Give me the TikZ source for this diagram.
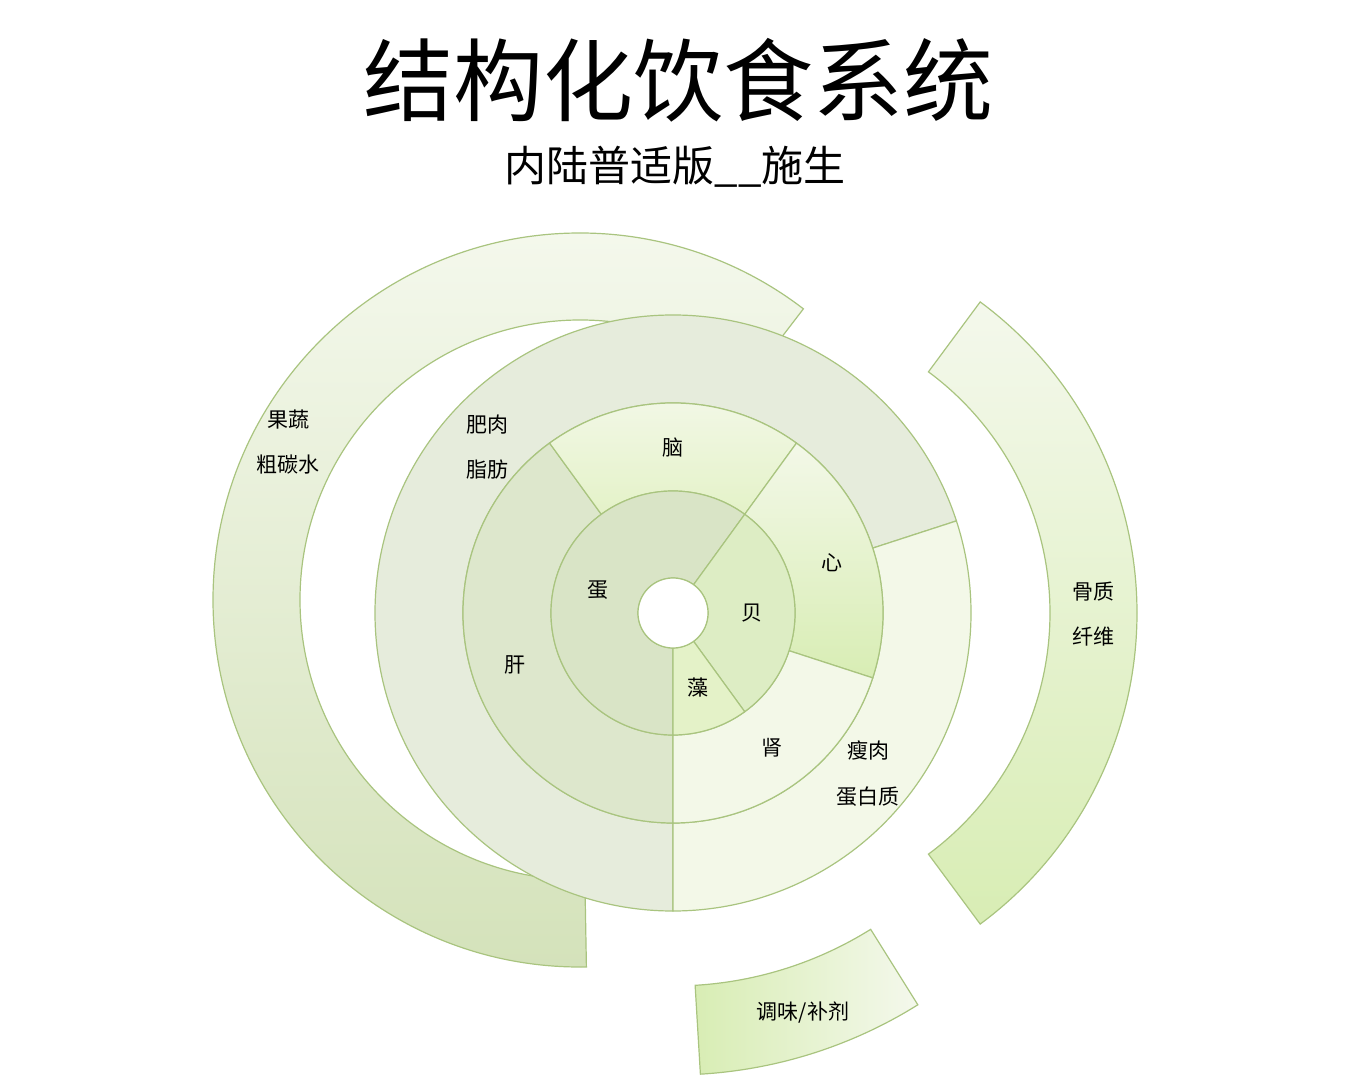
\documentclass[tikz,border=0pt]{standalone}
\usepackage{fontspec}
\newfontfamily\cjk{Noto Sans CJK SC}
\newcommand{\sect}[4]{(#3:#1) arc[start angle=#3,end angle=#4,radius=#1] -- (#4:#2) arc[start angle=#4,end angle=#3,radius=#2] -- cycle}
\tikzset{seg/.style={draw=edgec,line width=1.2pt},lbl/.style={font=\cjk\fontsize{21}{24}\selectfont,align=center}}
\definecolor{edgec}{HTML}{A9C47F}
\definecolor{g1}{HTML}{F4F8EC}
\definecolor{g2}{HTML}{D4E2BA}
\definecolor{g3}{HTML}{E6ECDC}
\definecolor{g4}{HTML}{DDE7CC}
\definecolor{g5}{HTML}{E4F2C8}
\definecolor{g6}{HTML}{D8EDB4}
\definecolor{g7}{HTML}{F3F8E8}
\definecolor{g8}{HTML}{D9E4C6}
\definecolor{g9}{HTML}{DDEDC4}
\begin{document}
\begin{tikzpicture}[x=1pt,y=1pt]
\useasboundingbox (0,0) rectangle (1348,1080);
\node[font=\cjk\fontsize{90}{94}\selectfont] (t) at (678,1000) {结构化饮食系统};
\node[font=\cjk\fontsize{42}{46}\selectfont] (s) at (675,913) {内陆普适版\_\_施生};
% left arc
\begin{scope}[shift={(580,480)}]
\path[seg,top color=g1,bottom color=g2] \sect{280}{367}{52.5}{271};
\end{scope}
% right arc
\begin{scope}[shift={(750,467)}]
\path[seg,top color=g1,bottom color=g6] \sect{300}{387}{-53.5}{53.5};
\end{scope}
\begin{scope}[shift={(673,467)}]
\path[seg,left color=g6,right color=g1] \sect{373}{462}{-86.6}{-58};
% ring 3
\path[seg,fill=g3] \sect{210}{298}{18}{270};
\path[seg,fill=g7] \sect{210}{298}{-90}{18};
% ring 2
\path[seg,fill=g4] \sect{122}{210}{126}{270};
\path[seg,top color=g7,bottom color=g5] \sect{122}{210}{54}{126};
\path[seg,top color=g7,bottom color=g6] \sect{122}{210}{-18}{54};
\path[seg,fill=g7] \sect{122}{210}{-90}{-18};
% ring 1
\path[seg,fill=g8] \sect{35}{122}{54}{270};
\path[seg,fill=g9] \sect{35}{122}{-54}{54};
\path[seg,fill=g5] \sect{35}{122}{-90}{-54};
\draw[seg,fill=white] (0,0) circle[radius=35];
\end{scope}
\node[lbl] (a1) at (288,660) {果蔬};
\node[lbl] (a2) at (288,615) {粗碳水};
\node[lbl] (b1) at (487,655) {肥肉};
\node[lbl] (b2) at (487,610) {脂肪};
\node[lbl] (c1) at (673,632) {脑};
\node[lbl] (c2) at (598,490) {蛋};
\node[lbl] (c3) at (832,517) {心};
\node[lbl] (c4) at (752,467) {贝};
\node[lbl] (c5) at (515,415) {肝};
\node[lbl] (c6) at (698,392) {藻};
\node[lbl] (c7) at (772,332) {肾};
\node[lbl] (d1) at (868,330) {瘦肉};
\node[lbl] (d2) at (868,283) {蛋白质};
\node[lbl] (e1) at (1093,488) {骨质};
\node[lbl] (e2) at (1093,443) {纤维};
\node[lbl] (f1) at (803,67) {调味/补剂};
\end{tikzpicture}
\end{document}
